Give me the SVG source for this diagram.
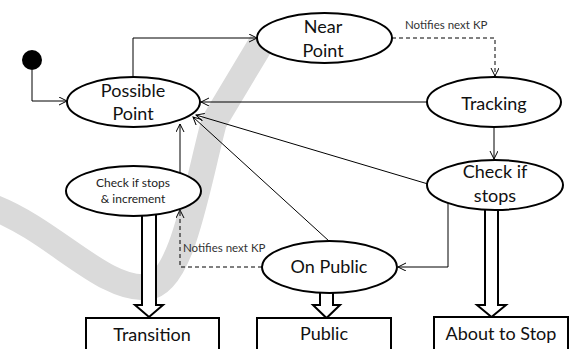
<svg xmlns="http://www.w3.org/2000/svg" width="578" height="349" viewBox="0 0 578 349">
<style>
.node{fill:#fff;stroke:#000;stroke-width:2}
.t{font-family:Lato,"Liberation Sans",sans-serif;font-size:18px;fill:#111;text-anchor:middle}
.s{font-family:Lato,"Liberation Sans",sans-serif;font-size:12px;fill:#222;text-anchor:middle}
.lbl{font-family:Lato,"Liberation Sans",sans-serif;font-size:11.5px;fill:#333}
.c{fill:none;stroke:#000;stroke-width:1}
.d{fill:none;stroke:#000;stroke-width:1;stroke-dasharray:4,3}
.blk{fill:#fff;stroke:#000;stroke-width:2;stroke-linejoin:miter}
</style>
<defs>
<marker id="arr" markerUnits="userSpaceOnUse" markerWidth="10" markerHeight="10" refX="8" refY="4" orient="auto">
<path d="M0,0 L8,4 L0,8" fill="none" stroke="#000" stroke-width="1"/>
</marker>
</defs>
<rect width="578" height="349" fill="#fff"/>
<g id="watermark">
<path d="M-5,208 C55,232 105,292 148,287 C182,283 196,190 214,122 L262,42" fill="none" stroke="#dadada" stroke-width="26"/>
</g>
<g id="block-arrows">
<polygon class="blk" points="142,214 156,214 156,305 163,305 149,317 135,305 142,305"/>
<polygon class="blk" points="320,290 333,290 333,305 340,305 326.5,318 313,305 320,305"/>
<polygon class="blk" points="485,206 498,206 498,305 506,305 491.5,317 477,305 485,305"/>
</g>
<g id="connectors">
<path class="c" d="M32,70 V101 H67" marker-end="url(#arr)"/>
<path class="c" d="M133,77 V38 H257" marker-end="url(#arr)"/>
<path class="d" d="M392,38 H495 V76" marker-end="url(#arr)"/>
<path class="c" d="M427,102 H201" marker-end="url(#arr)"/>
<path class="c" d="M494,127 V159" marker-end="url(#arr)"/>
<path class="c" d="M428,184 L196,115" marker-end="url(#arr)"/>
<path class="c" d="M329,241 L193,117" marker-end="url(#arr)"/>
<path class="c" d="M180,173 V124" marker-end="url(#arr)"/>
<path class="c" d="M448,203 V267 H398" marker-end="url(#arr)"/>
<path class="d" d="M262,267 H180 V210" marker-end="url(#arr)"/>
<text class="lbl" x="405" y="29">Notifies next KP</text>
<text class="lbl" x="183" y="252">Notifies next KP</text>
</g>
<g id="start"><circle cx="32" cy="60" r="10" fill="#000"/></g>
<g id="possible-point"><ellipse class="node" cx="133.5" cy="102" rx="66.5" ry="25"/><text class="t" x="133" y="97">Possible</text><text class="t" x="133" y="120">Point</text></g>
<g id="near-point"><ellipse class="node" cx="324.5" cy="38" rx="67.5" ry="25"/><text class="t" x="323" y="33">Near</text><text class="t" x="323" y="57">Point</text></g>
<g id="tracking"><ellipse class="node" cx="494" cy="102" rx="67" ry="25"/><text class="t" x="494" y="110">Tracking</text></g>
<g id="check-if-stops"><ellipse class="node" cx="495" cy="185" rx="68" ry="25"/><text class="t" x="495" y="178">Check if</text><text class="t" x="495" y="202">stops</text></g>
<g id="check-increment"><ellipse class="node" cx="133.5" cy="191" rx="67.5" ry="25"/><text class="s" x="133" y="187">Check if stops</text><text class="s" x="133" y="203">&amp; increment</text></g>
<g id="on-public"><ellipse class="node" cx="329.5" cy="267" rx="67.5" ry="26"/><text class="t" x="329" y="273">On Public</text></g>
<g id="transition"><rect class="node" x="86" y="318" width="133" height="40"/><text class="t" x="152" y="341">Transition</text></g>
<g id="public"><rect class="node" x="257" y="318" width="134" height="40"/><text class="t" x="324" y="340">Public</text></g>
<g id="about-to-stop"><rect class="node" x="434" y="317" width="134" height="40"/><text class="t" x="501" y="340">About to Stop</text></g>
</svg>
